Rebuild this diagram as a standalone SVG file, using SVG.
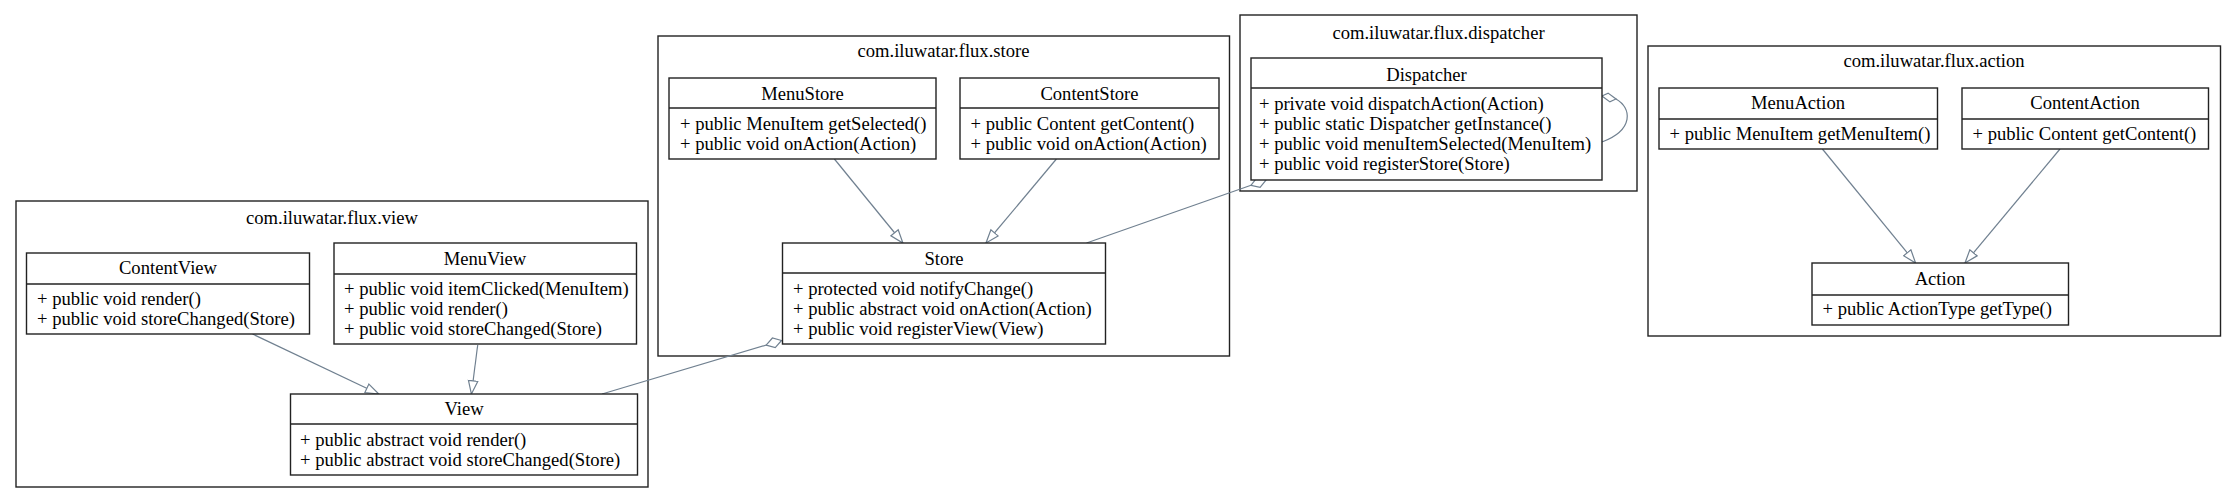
<svg xmlns="http://www.w3.org/2000/svg" width="2236" height="503" viewBox="0 0 2236 503">
<defs>
<style>
.pkg{fill:none;stroke:#222;stroke-width:1.4}
.box{fill:#fff;stroke:#222;stroke-width:1.4}
.div{stroke:#222;stroke-width:1.4}
text{font-family:"Liberation Serif","Times New Roman",serif;font-size:18.6px;fill:#000}
.c{text-anchor:middle}
.e{fill:none;stroke:#708090;stroke-width:1.2}
</style>
<marker id="tri" markerUnits="userSpaceOnUse" markerWidth="16" markerHeight="12" refX="14" refY="6" orient="auto" viewBox="0 0 16 12">
<path d="M0.8,1.3 L14,6 L0.8,10.7 Z" fill="#fff" stroke="#708090" stroke-width="1.2"/>
</marker>
<marker id="dia" markerUnits="userSpaceOnUse" markerWidth="18" markerHeight="12" refX="16.5" refY="6" orient="auto" viewBox="0 0 18 12">
<path d="M0.5,6 L8.5,1 L16.5,6 L8.5,11 Z" fill="#fff" stroke="#708090" stroke-width="1.2"/>
</marker>
</defs>
<rect width="2236" height="503" fill="#fff"/>

<g id="pkg-view">
<rect class="pkg" x="16" y="201" width="632" height="286"/>
<text class="c" x="332" y="223.5">com.iluwatar.flux.view</text>
</g>
<g id="pkg-store">
<rect class="pkg" x="658" y="36" width="571.5" height="320"/>
<text class="c" x="943.5" y="56.5">com.iluwatar.flux.store</text>
</g>
<g id="pkg-dispatcher">
<rect class="pkg" x="1240" y="15" width="397" height="176"/>
<text class="c" x="1438.5" y="38.5">com.iluwatar.flux.dispatcher</text>
</g>
<g id="pkg-action">
<rect class="pkg" x="1648" y="46" width="572.5" height="290"/>
<text class="c" x="1934" y="66.5">com.iluwatar.flux.action</text>
</g>

<g id="connectors">
<path class="e" d="M252.5,334 L378.8,394" marker-end="url(#tri)"/>
<path class="e" d="M477.7,345 L471.4,394" marker-end="url(#tri)"/>
<path class="e" d="M834.4,159 L902.9,243" marker-end="url(#tri)"/>
<path class="e" d="M1056.4,159 L986,243" marker-end="url(#tri)"/>
<path class="e" d="M1822.4,149 L1915.6,263" marker-end="url(#tri)"/>
<path class="e" d="M2060,149 L1965,263" marker-end="url(#tri)"/>
<path class="e" d="M602,394 L781.5,340.5" marker-end="url(#dia)"/>
<path class="e" d="M1086.5,243 L1266,180" marker-end="url(#dia)"/>
<path class="e" d="M1616,99 C1632,108 1634,130 1602,142"/>
<path d="M1602,96 L1608.1,93.1 L1616,99 L1609.9,101.9 Z" fill="#fff" stroke="#708090" stroke-width="1.2"/>
</g>

<g id="ContentView">
<rect class="box" x="26.5" y="253" width="283" height="81"/>
<line class="div" x1="26.5" y1="284" x2="309.5" y2="284"/>
<text class="c" x="168" y="274">ContentView</text>
<text x="37" y="304.5">+ public void render()</text>
<text x="37" y="324.5">+ public void storeChanged(Store)</text>
</g>
<g id="MenuView">
<rect class="box" x="334" y="243" width="302.5" height="101"/>
<line class="div" x1="334" y1="274" x2="636.5" y2="274"/>
<text class="c" x="485" y="264.5">MenuView</text>
<text x="344" y="294.5">+ public void itemClicked(MenuItem)</text>
<text x="344" y="314.5">+ public void render()</text>
<text x="344" y="334.5">+ public void storeChanged(Store)</text>
</g>
<g id="View">
<rect class="box" x="290.5" y="394" width="347" height="81"/>
<line class="div" x1="290.5" y1="424" x2="637.5" y2="424"/>
<text class="c" x="464" y="414.5">View</text>
<text x="300" y="445.5">+ public abstract void render()</text>
<text x="300" y="465.5">+ public abstract void storeChanged(Store)</text>
</g>

<g id="MenuStore">
<rect class="box" x="669" y="78" width="267" height="81"/>
<line class="div" x1="669" y1="108" x2="936" y2="108"/>
<text class="c" x="802.5" y="99.5">MenuStore</text>
<text x="680" y="129.5">+ public MenuItem getSelected()</text>
<text x="680" y="149.5">+ public void onAction(Action)</text>
</g>
<g id="ContentStore">
<rect class="box" x="960" y="78" width="259" height="81"/>
<line class="div" x1="960" y1="108" x2="1219" y2="108"/>
<text class="c" x="1089.5" y="99.5">ContentStore</text>
<text x="970.5" y="129.5">+ public Content getContent()</text>
<text x="970.5" y="149.5">+ public void onAction(Action)</text>
</g>
<g id="Store">
<rect class="box" x="782.5" y="243" width="323" height="101"/>
<line class="div" x1="782.5" y1="273" x2="1105.5" y2="273"/>
<text class="c" x="944" y="264.5">Store</text>
<text x="793" y="294.5">+ protected void notifyChange()</text>
<text x="793" y="314.5">+ public abstract void onAction(Action)</text>
<text x="793" y="334.5">+ public void registerView(View)</text>
</g>

<g id="Dispatcher">
<rect class="box" x="1251" y="58" width="351" height="122"/>
<line class="div" x1="1251" y1="88" x2="1602" y2="88"/>
<text class="c" x="1426.5" y="80.5">Dispatcher</text>
<text x="1259" y="109.5">+ private void dispatchAction(Action)</text>
<text x="1259" y="129.5">+ public static Dispatcher getInstance()</text>
<text x="1259" y="149.5">+ public void menuItemSelected(MenuItem)</text>
<text x="1259" y="169.5">+ public void registerStore(Store)</text>
</g>

<g id="MenuAction">
<rect class="box" x="1659" y="88" width="278.5" height="61"/>
<line class="div" x1="1659" y1="119" x2="1937.5" y2="119"/>
<text class="c" x="1798" y="108.5">MenuAction</text>
<text x="1669.5" y="139.5">+ public MenuItem getMenuItem()</text>
</g>
<g id="ContentAction">
<rect class="box" x="1962" y="88" width="246.5" height="61"/>
<line class="div" x1="1962" y1="119" x2="2208.5" y2="119"/>
<text class="c" x="2085" y="108.5">ContentAction</text>
<text x="1972.5" y="139.5">+ public Content getContent()</text>
</g>
<g id="Action">
<rect class="box" x="1812" y="263" width="256.5" height="62"/>
<line class="div" x1="1812" y1="295" x2="2068.5" y2="295"/>
<text class="c" x="1940" y="284.5">Action</text>
<text x="1822.5" y="315">+ public ActionType getType()</text>
</g>
</svg>
